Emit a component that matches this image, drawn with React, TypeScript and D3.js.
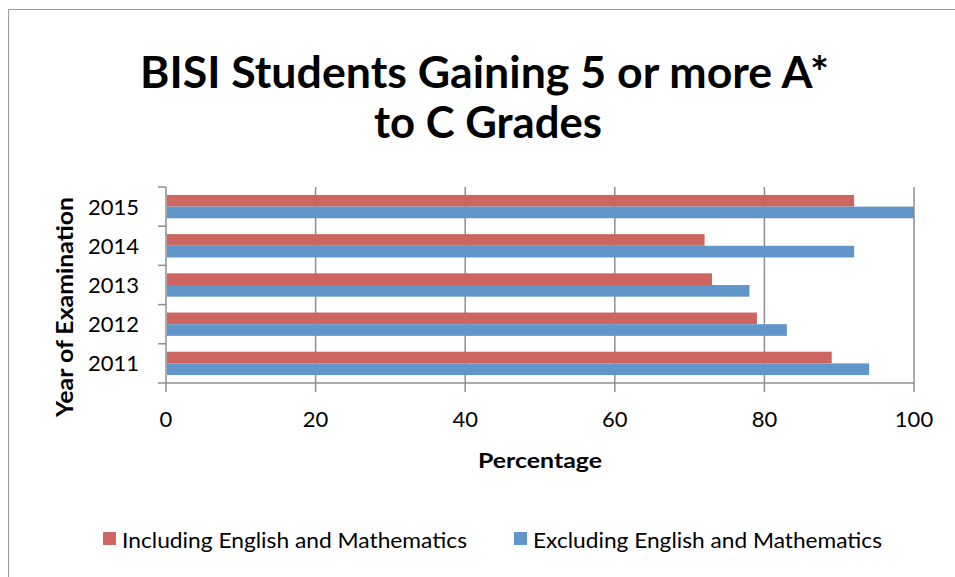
import React from "react";
import * as d3 from "d3";

const years = ["2011", "2012", "2013", "2014", "2015"];
const seriesNames = ["Including English and Mathematics", "Excluding English and Mathematics"];
const including = [89, 79, 73, 72, 92];
const excluding = [94, 83, 78, 92, 100];
const xTicks = [0, 20, 40, 60, 80, 100];

const colors = ["#CD6661", "#6196CB"];
const font = "Lato, 'Open Sans', sans-serif";

const App: React.FC = () => {
  const width = 955;
  const height = 577;
  const plot = { left: 166, right: 914, top: 187, bottom: 383 };

  const x = d3.scaleLinear().domain([0, 100]).range([plot.left, plot.right]);
  const y = d3
    .scaleBand<string>()
    .domain([...years].reverse())
    .range([plot.top, plot.bottom])
    .padding(0);
  const inner = d3
    .scaleBand<number>()
    .domain([0, 1])
    .range([0, y.bandwidth()])
    .paddingInner(0)
    .paddingOuter(0.68);

  const values = [including, excluding];
  const grid = "#8E8E8E";
  const bounds = [...years.map((yr) => y(yr) as number), plot.bottom];

  // legend slots: square x and text width
  const legendX = [103, 514];
  const legendW = [345, 349];

  return (
    <svg width={width} height={height} style={{ position: "absolute", left: 0, top: 0 }}>
      <rect x={0} y={0} width={width} height={height} fill="#fff" />
      <path d={`M8.5,${height} V9.5 H${width}`} fill="none" stroke="#999" strokeWidth={1} />

      <text
        x={140}
        y={88}
        textLength={689}
        lengthAdjust="spacingAndGlyphs"
        fontFamily={font}
        fontWeight="bold"
        fontSize={44}
        fill="#000"
      >
        BISI Students Gaining 5 or more A*
      </text>
      <text
        x={374}
        y={138}
        textLength={228}
        lengthAdjust="spacingAndGlyphs"
        fontFamily={font}
        fontWeight="bold"
        fontSize={44}
        fill="#000"
      >
        to C Grades
      </text>

      {/* gridlines + bottom ticks */}
      {xTicks.map((t) => (
        <line key={t} x1={x(t)} x2={x(t)} y1={plot.top} y2={plot.bottom + 9} stroke={grid} strokeWidth={1.5} />
      ))}
      {/* y axis ticks */}
      {bounds.map((b, i) => (
        <line key={i} x1={plot.left - 8} x2={plot.left} y1={b} y2={b} stroke={grid} strokeWidth={1.5} />
      ))}
      <line x1={plot.left} x2={plot.right} y1={plot.bottom} y2={plot.bottom} stroke={grid} strokeWidth={1.5} />

      {/* bars */}
      {years.map((yr, i) =>
        values.map((vals, s) => (
          <rect
            key={yr + s}
            x={x(0) + 1}
            y={(y(yr) as number) + (inner(s) as number)}
            width={x(vals[i]) - x(0) - 1}
            height={inner.bandwidth()}
            fill={colors[s]}
          />
        ))
      )}

      {/* y tick labels */}
      {years.map((yr) => (
        <text
          key={yr}
          x={139}
          y={(y(yr) as number) + y.bandwidth() / 2 + 8}
          textAnchor="end"
          fontFamily={font}
          fontSize={22}
          fill="#000"
        >
          {yr}
        </text>
      ))}
      {/* x tick labels */}
      {xTicks.map((t) => (
        <text key={t} x={x(t)} y={427} textAnchor="middle" fontFamily={font} fontSize={22} fill="#000">
          {t}
        </text>
      ))}

      <text
        x={478}
        y={468}
        textLength={124}
        lengthAdjust="spacingAndGlyphs"
        fontFamily={font}
        fontWeight="bold"
        fontSize={21}
        fill="#000"
      >
        Percentage
      </text>
      <text
        transform="translate(73,417) rotate(-90)"
        textLength={220}
        lengthAdjust="spacingAndGlyphs"
        fontFamily={font}
        fontWeight="bold"
        fontSize={22}
        fill="#000"
      >
        Year of Examination
      </text>

      {/* legend */}
      {seriesNames.map((name, s) => (
        <g key={name}>
          <rect x={legendX[s]} y={532} width={13} height={13} fill={colors[s]} />
          <text
            x={legendX[s] + 19}
            y={548}
            textLength={legendW[s]}
            lengthAdjust="spacingAndGlyphs"
            fontFamily={font}
            fontSize={21}
            fill="#000"
          >
            {name}
          </text>
        </g>
      ))}
    </svg>
  );
};

export default App;
